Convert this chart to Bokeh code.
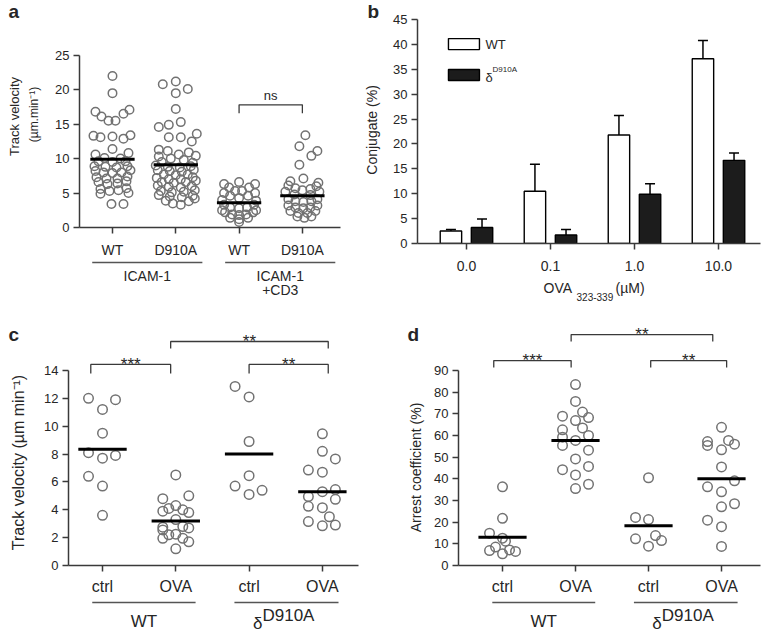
import numpy as np
from bokeh.plotting import figure
from bokeh.layouts import row, column
from bokeh.models import Range1d, FixedTicker, Whisker, TeeHead, ColumnDataSource
from bokeh.embed import file_html
from bokeh.resources import INLINE
from bokeh.core.properties import value

FONT = "Liberation Sans"
TXT = "#262626"
AXC = "#3a3a3a"
PTC = "#727272"

# ======================= DATA =======================
# ---- panel a : track velocity (um/min) ----
a_labels = ["WT", "D910A", "WT", "D910A"]
a_group_names = ["ICAM-1", "ICAM-1\n+CD3"]
a_group_start = [-0.32, 1.78]
a_group_end = [1.42, 3.52]
a_means = [9.9, 9.1, 3.6, 4.6]

a_wt_icam = [22.0, 19.5, 16.8, 16.1, 15.5, 15.5, 16.5, 17.1, 13.3, 13.1, 13.2, 12.9, 13.4, 11.4,
             10.6, 10.8, 10.1, 10.0, 9.6, 9.5, 9.6, 8.9, 8.8, 8.7, 8.9, 8.2, 8.0, 7.9, 8.0, 8.3,
             7.3, 7.1, 7.1, 7.4, 6.6, 6.3, 6.4, 6.7, 5.6, 5.3, 5.4, 5.7, 4.9, 5.0, 3.4, 3.4]
a_wt_icam_dx = [0, 0, -17, -11, -4, 3, 11, 17, -19, -12, 0, 11, 18, 0,
                -17, 16, -8, 8, -14, 0, 13, -18, -7, 4, 15, -17, -9, 0, 9, 18,
                -16, -6, 5, 15, -14, -5, 5, 14, -12, -3, 6, 14, -12, 16, -1, 11]

a_d_icam = [21.2, 20.8, 20.1, 19.5, 17.2, 14.6, 14.9, 15.3, 13.1, 13.1, 12.5, 13.6, 11.3,
            11.1, 10.6, 10.9, 10.3, 10.4, 10.0, 9.8, 9.5, 9.4, 9.0, 8.8, 8.7, 8.9, 8.3, 8.2,
            8.1, 8.4, 7.7, 7.6, 7.7, 7.2, 7.0, 7.0, 7.3, 6.6, 6.5, 6.6, 6.8, 6.1, 5.9, 5.8,
            6.0, 5.3, 5.1, 5.2, 5.4, 4.7, 4.5, 4.4, 4.6, 3.9, 3.5, 3.3, 3.8, 4.2]
a_d_icam_dx = [0, -13, 12, 0, 0, -17, -7, 5, -7, 5, 16, 21, -17,
               -8, 3, 13, -17, 20, -5, 8, -14, 17, -20, -8, 4, 15, -18, -6,
               6, 18, -12, 0, 12, -19, -7, 5, 17, -14, -2, 10, 20, -18, -7, 5,
               16, -15, -4, 8, 19, -17, -6, 6, 17, -10, -3, 5, 13, 19]

a_wt_cd3 = [6.6, 6.3, 6.3, 5.8, 5.8, 5.3, 5.3, 5.0, 5.0, 4.6, 4.6, 4.3, 4.0, 3.9,
            3.3, 3.3, 2.9, 2.8, 2.9, 2.5, 2.5, 2.2, 2.2, 1.9, 1.8, 1.9, 1.4, 1.2, 1.4, 0.8]
a_wt_cd3_dx = [0, -15, 16, -10, 10, -4, 3, -15, 16, -9, 9, 0, -17, 17,
               -15, 15, -9, 0, 8, -17, 17, -14, 14, -7, 0, 7, -9, 0, 9, 0]

a_d_cd3 = [13.4, 11.8, 11.1, 10.4, 9.1, 7.1, 6.7, 6.5, 6.1, 6.0, 5.7, 5.6, 5.4, 5.2, 5.2,
           4.8, 4.7, 4.1, 4.1, 3.8, 3.7, 3.8, 3.2, 3.2, 2.9, 2.8, 2.9, 2.4, 2.4, 2.1, 2.1,
           1.6, 1.4, 1.6]
a_d_cd3_dx = [3, -3, 15, 9, -3, 1, -12, 16, -14, 14, -7, 8, 0, -17, 17,
              -8, 8, -14, 15, -7, 1, 9, -14, 15, -7, 1, 8, -12, 13, -4, 5,
              -5, 2, 9]

a_ns_x0, a_ns_x1, a_ns_y, a_ns_leg = [2.0], [3.0], [17.8], [1.2]
a_ns_text = ["ns"]

# ---- panel b : conjugates (%) ----
b_conc = ["0.0", "0.1", "1.0", "10.0"]
b_wt = [2.5, 10.5, 21.8, 37.1]
b_wt_sem = [0.3, 5.4, 3.9, 3.7]
b_d = [3.2, 1.7, 9.9, 16.7]
b_d_sem = [1.7, 1.1, 2.1, 1.5]

# ---- panel c : track velocity (um min-1) ----
cd_labels = ["ctrl", "OVA", "ctrl", "OVA"]
cd_group_start = [-0.14, 1.8]
cd_group_end = [1.27, 3.22]
c_means = [8.35, 3.2, 8.0, 5.3]
c_wt_ctrl = [12.0, 11.9, 11.2, 9.5, 8.1, 7.7, 7.9, 6.4, 5.7, 3.6]
c_wt_ctrl_dx = [-14, 13, 0, 0, -14, 0, 13, -14, 0, 0]
c_wt_ova = [6.5, 4.8, 5.0, 3.9, 4.1, 4.3, 4.0, 3.8, 3.3, 2.75, 2.55, 2.8, 2.7, 2.2,
            2.25, 1.95, 1.95, 1.7, 1.2]
c_wt_ova_dx = [0, -13, 13, -13, -7, 0, 7, 13, 0, -13, -13, 7, 13, -7, 0, -13, 7, 13, 0]
c_d_ctrl = [12.85, 12.1, 8.9, 6.45, 5.7, 5.1, 5.4]
c_d_ctrl_dx = [-14, 0, 0, 0, -14, 0, 13]
c_d_ova = [9.45, 8.2, 7.65, 6.85, 6.7, 4.95, 5.3, 5.45, 4.25, 4.15, 4.75, 3.5, 3.15, 2.85, 2.9]
c_d_ova_dx = [0, 0, 13, -14, 0, -14, 0, 13, -14, 0, 13, 7, -14, 0, 13]
c_br_x0 = [-0.16, 0.93, 2.0]
c_br_x1 = [0.93, 3.08, 3.08]
c_br_y = [14.43, 16.08, 14.43]
c_br_leg = [0.65, 0.5, 0.65]
c_br_text = ["***", "**", "**"]

# ---- panel d : arrest coefficient (%) ----
d_means = [13.0, 57.7, 18.3, 40.0]
d_wt_ctrl = [36.3, 21.8, 14.9, 12.6, 11.2, 6.9, 8.5, 5.4, 7.2, 6.5]
d_wt_ctrl_dx = [0, 0, -13, 0, 3, -13, -7, 0, 7, 13]
d_wt_ova = [83.5, 75.7, 70.8, 68.9, 68.3, 66.9, 63.5, 62.6, 59.2, 60.0, 57.7, 55.4, 53.2,
            49.2, 45.7, 44.2, 41.8, 37.5, 35.5]
d_wt_ova_dx = [0, 0, 7, -13, 13, 0, 7, -13, -13, 13, 0, -13, 13, 0, 13, -13, 0, 13, 0]
d_d_ctrl = [40.5, 22.2, 21.2, 13.8, 11.5, 12.3, 8.9]
d_d_ctrl_dx = [0, -13, 0, 7, 13, -13, 0]
d_d_ova = [63.8, 57.2, 55.4, 57.7, 56.0, 53.4, 45.5, 39.1, 36.3, 34.0, 28.5, 27.1, 20.9, 17.9, 8.8]
d_d_ova_dx = [0, -14, -14, 7, 13, 0, 0, 13, -14, 0, 13, 0, -14, 0, 0]
d_br_x0 = [-0.12, 0.94, 2.03]
d_br_x1 = [0.94, 2.88, 3.07]
d_br_y = [94.6, 106.6, 94.6]
d_br_leg = [3.2, 3.2, 3.2]
d_br_text = ["***", "**", "**"]


# ======================= HELPERS =======================
def make_fig(w, h, xr, yr, bl, br, bt, bb):
    p = figure(width=w, height=h, x_range=xr, y_range=yr, output_backend="svg",
               toolbar_location=None, min_border_left=bl, min_border_right=br,
               min_border_top=bt, min_border_bottom=bb)
    p.grid.visible = False
    p.outline_line_color = None
    return p


def bare_fig(w, h, xr, yr, bl=0, br=0):
    q = figure(width=w, height=h, x_range=xr, y_range=yr, output_backend="svg",
               toolbar_location=None, min_border_left=bl, min_border_right=br,
               min_border_top=0, min_border_bottom=0, x_axis_location=None,
               y_axis_location=None)
    q.grid.visible = False
    q.outline_line_color = None
    return q


def style_axes(p, xticks, xlabels, yticks, xfs, yfs, xbounds=None, ybounds=None, xstand=6):
    p.xaxis.ticker = FixedTicker(ticks=xticks)
    p.xaxis.major_label_overrides = {t: l for t, l in zip(xticks, xlabels)}
    p.yaxis.ticker = FixedTicker(ticks=yticks)
    if xbounds is not None:
        p.xaxis.bounds = xbounds
    if ybounds is not None:
        p.yaxis.bounds = ybounds
    for ax in p.axis:
        ax.axis_line_color = AXC
        ax.axis_line_width = 1.5
        ax.major_tick_line_color = AXC
        ax.major_tick_line_width = 1.5
        ax.major_tick_in = 0
        ax.major_tick_out = 6
        ax.minor_tick_line_color = None
        ax.major_label_text_font = FONT
        ax.major_label_text_color = TXT
    p.xaxis.major_label_text_font_size = xfs
    p.yaxis.major_label_text_font_size = yfs
    p.xaxis.major_label_standoff = xstand
    p.yaxis.major_label_standoff = 4


def add_swarm(p, vals_list, dx_list, px_per_unit, size):
    xs, ys = [], []
    for i, (vals, dx) in enumerate(zip(vals_list, dx_list)):
        xs += [i + d / px_per_unit for d in dx]
        ys += list(vals)
    p.scatter(x=xs, y=ys, size=size, marker="circle", fill_color=None,
              line_color=PTC, line_width=1.5)


def add_means(p, means, half):
    idx = np.arange(len(means))
    p.segment(x0=idx - half, x1=idx + half, y0=means, y1=means,
              line_color="black", line_width=3)


def add_brackets(p, x0s, x1s, ys, legs, texts, fs, dy_text):
    xs = [[a, a, b, b] for a, b in zip(x0s, x1s)]
    yy = [[y - l, y, y, y - l] for y, l in zip(ys, legs)]
    p.multi_line(xs=xs, ys=yy, line_color=AXC, line_width=1.3)
    p.text(x=[(a + b) / 2 for a, b in zip(x0s, x1s)], y=[y + dy_text for y in ys], text=texts,
           text_align="center", text_baseline="middle", text_font=value(FONT),
           text_font_size=fs, text_color=TXT)


def txt(p, x, y, s, fs, angle=0.0, align="center", baseline="middle", bold=False, xoff=0):
    p.text(x=[x], y=[y], text=[s], angle=angle, text_align=align, text_baseline=baseline,
           text_font=value(FONT), text_font_size=fs, text_color=TXT, x_offset=xoff,
           text_font_style="bold" if bold else "normal")


def group_lines(q, starts, ends, y):
    q.segment(x0=starts, x1=ends, y0=[y] * len(starts), y1=[y] * len(starts),
              line_color="#555555", line_width=1.4)


# ======================= TOP ROW (height 318) =======================
# left strip with panel letter and y title of a
sa = bare_fig(45, 318, Range1d(0, 45), Range1d(318, 0))
txt(sa, 8, 11, "a", "19px", align="left", bold=True)
txt(sa, 14, 116, "Track velocity", "13px", angle=np.pi / 2)
txt(sa, 33, 114, "(\u00b5m.min\u207b\u00b9)", "12px", angle=np.pi / 2)

# panel a main (frame spans x 79..385, y 0..228 on the page)
a_px = 63.3
a_xr = Range1d(-0.521, 4.313)
pa = make_fig(340, 260, a_xr, Range1d(0, 32.95), 34, 0, 0, 32)
style_axes(pa, [0, 1, 2, 3], a_labels, [0, 5, 10, 15, 20, 25], "14px", "13px",
           xbounds=(-0.521, 3.602), ybounds=(0, 25), xstand=8)
add_swarm(pa, [a_wt_icam, a_d_icam, a_wt_cd3, a_d_cd3],
          [a_wt_icam_dx, a_d_icam_dx, a_wt_cd3_dx, a_d_cd3_dx], a_px, 8.5)
add_means(pa, a_means, 0.35)
add_brackets(pa, a_ns_x0, a_ns_x1, a_ns_y, a_ns_leg, a_ns_text, "13px", 1.4)
# panel b letter and y title live left of b's axis
txt(pa, 4.03, 31.3, "b", "19px", align="left", bold=True)
txt(pa, 4.107, 14.16, "Conjugate (%)", "14px", angle=np.pi / 2)

qa = bare_fig(340, 58, a_xr, Range1d(58, 0), bl=34, br=0)
group_lines(qa, a_group_start, a_group_end, 2)
qa.text(x=[(s + e) / 2 for s, e in zip(a_group_start, a_group_end)], y=[7, 7],
        text=a_group_names, text_align="center", text_baseline="top",
        text_font=value(FONT), text_font_size="14px", text_color=TXT, text_line_height=0.9)

# panel b main (frame x 417..760, y 19..243)
b_xr = Range1d(-0.583, 3.5)
pb = make_fig(377, 275, b_xr, Range1d(0, 45), 32, 2, 19, 32)
style_axes(pb, [0, 1, 2, 3], b_conc, list(range(0, 50, 5)), "14px", "13px", xstand=11)
idx = np.arange(4)
src_b = ColumnDataSource(dict(
    xw=idx - 0.185, xd=idx + 0.185, wt=b_wt, d=b_d,
    wt_up=np.array(b_wt) + np.array(b_wt_sem), d_up=np.array(b_d) + np.array(b_d_sem)))
pb.vbar(x="xw", top="wt", bottom=0, width=0.255, source=src_b, fill_color="white",
        line_color="black", line_width=1.4)
pb.vbar(x="xd", top="d", bottom=0, width=0.255, source=src_b, fill_color="#1c1c1c",
        line_color="black", line_width=1.4)
for base, low, up in (("xw", "wt", "wt_up"), ("xd", "d", "d_up")):
    pb.add_layout(Whisker(source=src_b, base=base, lower=low, upper=up, dimension="height",
                          line_color="black", line_width=1.5, lower_head=None,
                          upper_head=TeeHead(size=10, line_color="black", line_width=1.5)))
# legend
pb.rect(x=[-0.03, -0.03], y=[40.06, 33.84], width=31, height=11, width_units="screen",
        height_units="screen", fill_color=["white", "#1c1c1c"], line_color="black",
        line_width=1.4)
txt(pb, 0.226, 40.06, "WT", "13px", align="left")
txt(pb, 0.226, 33.3, "\u03b4", "13px", align="left")
txt(pb, 0.31, 34.9, "D910A", "8px", align="left")

qb = bare_fig(377, 43, b_xr, Range1d(43, 0), bl=32, br=2)
txt(qb, 0.917, 12, "OVA", "14px", align="left")
txt(qb, 1.31, 21, "323-339", "10px", align="left")
txt(qb, 1.774, 12, "(\u00b5M)", "14px", align="left")

# ======================= BOTTOM ROW (height 316) =======================
sc = bare_fig(40, 316, Range1d(0, 40), Range1d(316, 0))
txt(sc, 8, 16, "c", "19px", align="left", bold=True)
txt(sc, 18, 144, "Track velocity (\u00b5m min\u207b\u00b9)", "16px", angle=np.pi / 2)

# panel c main (frame x 68..425, y 318..565)
c_px = 73.3
c_xr = Range1d(-0.464, 4.407)
pc = make_fig(385, 279, c_xr, Range1d(0, 17.73), 28, 0, 0, 32)
style_axes(pc, [0, 1, 2, 3], cd_labels, list(range(0, 16, 2)), "16px", "13px",
           xbounds=(-0.464, 3.492), ybounds=(0, 14), xstand=6)
add_swarm(pc, [c_wt_ctrl, c_wt_ova, c_d_ctrl, c_d_ova],
          [c_wt_ctrl_dx, c_wt_ova_dx, c_d_ctrl_dx, c_d_ova_dx], c_px, 9.5)
add_means(pc, c_means, 0.33)
add_brackets(pc, c_br_x0, c_br_x1, c_br_y, c_br_leg, c_br_text, "17px", 0.0)
# panel d letter and y title live left of d's axis
txt(pc, 4.161, 16.58, "d", "19px", align="left", bold=True)
txt(pc, 4.284, 7.035, "Arrest coefficient (%)", "14px", angle=np.pi / 2)

qc = bare_fig(385, 37, c_xr, Range1d(37, 0), bl=28, br=0)
group_lines(qc, cd_group_start, cd_group_end, 5)

# panel d main (frame x 458..760, y 318..565)
d_px = 73.0
d_xr = Range1d(-0.603, 3.534)
pd = make_fig(337, 279, d_xr, Range1d(0, 114.0), 33, 2, 0, 32)
style_axes(pd, [0, 1, 2, 3], cd_labels, list(range(0, 100, 10)), "16px", "13px",
           ybounds=(0, 90), xstand=6)
add_swarm(pd, [d_wt_ctrl, d_wt_ova, d_d_ctrl, d_d_ova],
          [d_wt_ctrl_dx, d_wt_ova_dx, d_d_ctrl_dx, d_d_ova_dx], d_px, 9.5)
add_means(pd, d_means, 0.33)
add_brackets(pd, d_br_x0, d_br_x1, d_br_y, d_br_leg, d_br_text, "17px", 0.0)

qd = bare_fig(337, 37, d_xr, Range1d(37, 0), bl=33, br=2)
group_lines(qd, cd_group_start, cd_group_end, 5)

# group labels WT / delta-D910A for c and d
for q in (qc, qd):
    mids = [(s + e) / 2 for s, e in zip(cd_group_start, cd_group_end)]
    txt(q, mids[0], 24.0, "WT", "17px")
    txt(q, mids[1], 26.0, "\u03b4", "17px", align="right", xoff=-24)
    txt(q, mids[1], 18.0, "D910A", "17px", align="left", xoff=-24)

layout = column(row(sa, column(pa, qa), column(pb, qb)),
                row(sc, column(pc, qc), column(pd, qd)))

open("out.html", "w").write(file_html(layout, INLINE, title="chart"))
